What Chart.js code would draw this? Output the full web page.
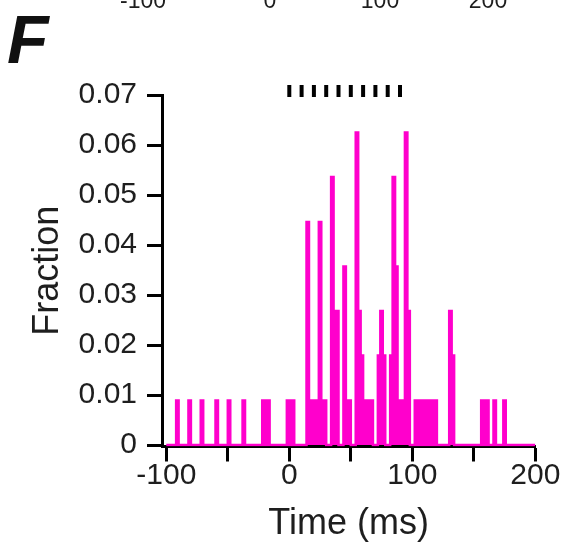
<!DOCTYPE html>
<html>
<head>
<meta charset="utf-8">
<script src="https://cdn.jsdelivr.net/npm/chart.js@4.4.1/dist/chart.umd.min.js"></script>
<style>
  html, body { margin: 0; padding: 0; background: #fff; }
  #wrap { width: 564px; height: 546px; position: relative; }
</style>
</head>
<body>
<div id="wrap"><canvas id="histChart"></canvas></div>
<script>
// --- data ---
const binWidth = 2; // ms
// left edge (ms) of every non-empty bin
const binStarts = [-92, -82, -72, -60, -50, -38, -22, -18, -2, 2,
    14, 16, 18, 20, 22, 24, 26, 28, 34, 36, 38, 44, 46, 48,
    54, 56, 58, 60, 62, 64, 66, 72, 74, 76, 82, 84, 86, 88, 90, 92, 94, 96,
    102, 106, 110, 114, 118, 130, 132, 156, 160, 166, 174];
const binFractions = [0.0089, 0.0089, 0.0089, 0.0089, 0.0089, 0.0089, 0.0089, 0.0089, 0.0089, 0.0089,
    0.0446, 0.0089, 0.0089, 0.0089, 0.0089, 0.0446, 0.0089, 0.0089, 0.0536, 0.0268, 0.0268, 0.0357, 0.0089, 0.0089,
    0.0625, 0.0268, 0.0179, 0.0089, 0.0089, 0.0089, 0.0089, 0.0179, 0.0268, 0.0179, 0.0179, 0.0536, 0.0357, 0.0089, 0.0089, 0.0089, 0.0625, 0.0268,
    0.0089, 0.0089, 0.0089, 0.0089, 0.0089, 0.0268, 0.0179, 0.0089, 0.0089, 0.0089, 0.0089];
// stimulus pulses drawn as dashes above the plot
const stimTimes = [0, 10, 20, 30, 40, 50, 60, 70, 80, 90];

const xTickValues = [-100, -50, 0, 50, 100, 150, 200];
const xTickLabels = ['-100', '', '0', '', '100', '', '200'];
const yTickValues = [0, 0.01, 0.02, 0.03, 0.04, 0.05, 0.06, 0.07];
const yTickLabels = ['0', '0.01', '0.02', '0.03', '0.04', '0.05', '0.06', '0.07'];
const topPanelLabels = ['-100', '0', '100', '200']; // cut-off labels of panel E above

const FONT = '"Liberation Sans", Arial, sans-serif';
const MAGENTA = '#ff00cc';
const TEXT = '#1e1e1e';

// step points: one per bin edge from -100 to 200
const stepPoints = [];
for (let t = -100; t <= 200; t += binWidth) {
    const k = binStarts.indexOf(t);
    stepPoints.push({ x: t, y: k >= 0 ? binFractions[k] : 0 });
}

// panel letter and the clipped labels of the panel above
const extraText = {
    id: 'extraText',
    afterDraw(chart) {
        const ctx = chart.ctx;
        ctx.save();
        ctx.fillStyle = '#111';
        ctx.font = 'italic bold 68px ' + FONT;
        ctx.textAlign = 'left';
        ctx.textBaseline = 'alphabetic';
        ctx.fillText('F', 7, 63);

        ctx.fillStyle = TEXT;
        ctx.font = '23px ' + FONT;
        ctx.textAlign = 'center';
        const xs = [143, 270, 380, 488];
        topPanelLabels.forEach((s, i) => ctx.fillText(s, xs[i], 8));
        ctx.restore();
    }
};

new Chart(document.getElementById('histChart'), {
    type: 'line',
    data: {
        datasets: [
            {
                data: stepPoints,
                stepped: 'before',
                borderColor: MAGENTA,
                backgroundColor: MAGENTA,
                borderWidth: 2.5,
                fill: 'origin',
                pointRadius: 0,
                borderJoinStyle: 'miter'
            },
            {
                type: 'scatter',
                data: stimTimes.map(t => ({ x: t, y: 0.0708 })),
                pointStyle: 'line',
                pointRotation: 90,
                pointRadius: 6,
                borderWidth: 4,
                pointBorderWidth: 4,
                borderColor: '#000',
                pointBorderColor: '#000',
                pointBackgroundColor: '#000',
                clip: false
            }
        ]
    },
    options: {
        responsive: true,
        maintainAspectRatio: false,
        animation: false,
        layout: { padding: { left: 0, right: 28.7, top: 95, bottom: 0 } },
        plugins: { legend: { display: false }, tooltip: { enabled: false } },
        scales: {
            x: {
                type: 'linear',
                min: -103.5,
                max: 200,
                z: 1,
                afterBuildTicks: s => { s.ticks = xTickValues.map(v => ({ value: v })); },
                afterFit: s => { s.height = 99.5; },
                border: { display: true, color: '#000', width: 3 },
                grid: { drawOnChartArea: false, drawTicks: true, tickLength: 15, tickWidth: 3, tickColor: '#000' },
                ticks: {
                    color: TEXT,
                    font: { family: FONT, size: 30 },
                    padding: -4,
                    maxRotation: 0,
                    autoSkip: false,
                    callback: (v, i) => xTickLabels[i]
                },
                title: { display: true, text: 'Time (ms)', color: TEXT, font: { family: FONT, size: 36 }, padding: { top: 1, bottom: 0 } }
            },
            y: {
                min: -0.0003,
                max: 0.07,
                z: 1,
                afterBuildTicks: s => { s.ticks = yTickValues.map(v => ({ value: v })); },
                afterFit: s => { s.width = 162; },
                border: { display: true, color: '#000', width: 3 },
                grid: { drawOnChartArea: false, drawTicks: true, tickLength: 15, tickWidth: 3, tickColor: '#000' },
                ticks: {
                    color: TEXT,
                    font: { family: FONT, size: 30 },
                    padding: 10,
                    autoSkip: false,
                    callback: (v, i) => yTickLabels[i]
                },
                title: { display: true, text: 'Fraction', color: TEXT, font: { family: FONT, size: 36 }, padding: { top: 26, bottom: 0 } }
            }
        }
    },
    plugins: [extraText]
});
</script>
</body>
</html>
